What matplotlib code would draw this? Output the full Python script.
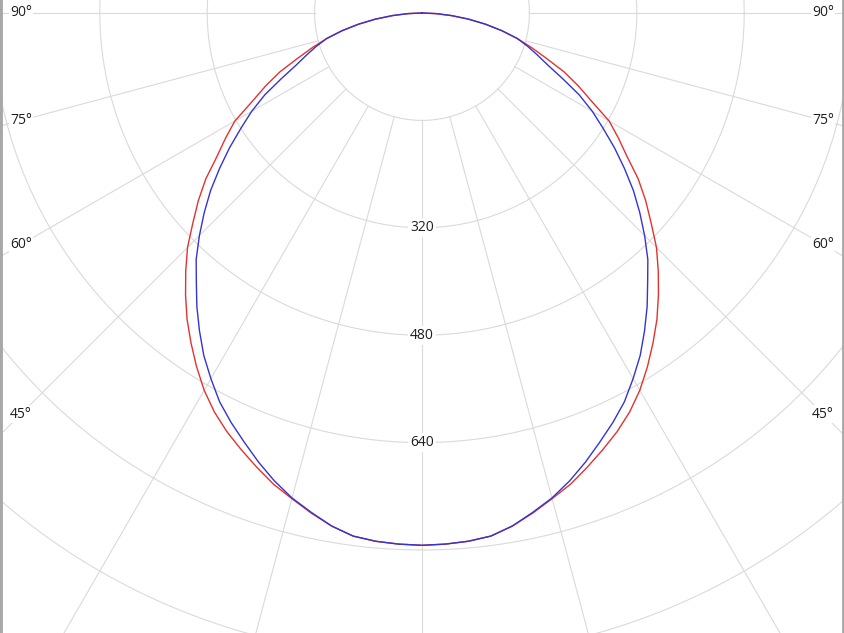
# polar intensity diagram (cd), two planes, viewed as a crop around the lamp centre

import numpy as np
import matplotlib
matplotlib.use('Agg')
import matplotlib.pyplot as plt

# gamma angle from nadir, degrees
gamma = [0, 2.5, 5, 7.5, 10, 12.5, 15, 17.5, 20, 22.5, 25, 27.5, 30, 32.5, 35,
         37.5, 40, 42.5, 45, 47.5, 50, 52.5, 55, 57.5, 60, 62.5, 65, 67.5, 70,
         72.5, 75, 77.5, 80, 82.5, 85, 87.5, 90]
# intensity in cd (same both sides)
red_cd = [793, 792, 790, 786, 776, 763, 749, 736, 720, 704, 688, 670, 649, 625, 600,
          575, 548, 521, 494, 463, 435, 406, 373, 347, 322, 285, 257, 229, 197,
          171, 147, 122, 96, 70, 44, 21, 0]
blue_cd = [793, 792, 790, 786, 776, 762, 748, 731, 712, 692, 673, 653, 629, 605, 578,
           551, 523, 498, 469, 440, 411, 380, 350, 320, 293, 264, 231, 203, 183,
           165, 147, 122, 96, 70, 44, 21, 0]

ring_values = [160, 320, 480, 640, 800, 960, 1120]
ring_labels = [320, 480, 640]
spoke_angles = [-90, -75, -60, -45, -30, -15, 0, 15, 30, 45, 60, 75, 90]
angle_labels = [45, 60, 75, 90]

cd_per_px = 160 / 107.4
grid_col = '#dadada'
txt_col = '#1e1e1e'
fnt = ['Open Sans', 'DejaVu Sans']


def to_xy(ang, val):
    # mirror the half curve to both sides, 0 deg points down
    ang = np.asarray(ang, dtype=float)
    val = np.asarray(val, dtype=float)
    a = np.concatenate([-ang[::-1], ang[1:]])
    r = np.concatenate([val[::-1], val[1:]])
    t = np.radians(a)
    return r * np.sin(t), -r * np.cos(t)


fig = plt.figure(figsize=(8.44, 6.33), dpi=100)
ax = fig.add_axes([0, 0, 1, 1])

# rings
t = np.linspace(0, 2 * np.pi, 720)
for rv in ring_values:
    ax.plot(rv * np.cos(t), rv * np.sin(t), color=grid_col, lw=0.8, zorder=1)

# spokes start on the first ring
for sa in spoke_angles:
    a = np.radians(sa)
    ax.plot([ring_values[0] * np.sin(a), 1300 * np.sin(a)],
            [-ring_values[0] * np.cos(a), -1300 * np.cos(a)],
            color=grid_col, lw=0.8, zorder=1)

# curves
x, y = to_xy(gamma, red_cd)
ax.plot(x, y, color='#e3322f', lw=1.0, zorder=3)
x, y = to_xy(gamma, blue_cd)
ax.plot(x, y, color='#3434d0', lw=1.0, zorder=4)

# ring values down the middle
for rv in ring_labels:
    ax.text(0, -rv, str(rv), ha='center', va='center', fontsize=10,
            color=txt_col, family=fnt, zorder=5,
            bbox=dict(boxstyle='square,pad=0.15', fc='white', ec='none'))

# angle labels near both edges, sitting on their spoke
xl = 401 * cd_per_px
for al in angle_labels:
    a = np.radians(al)
    yl = -xl * np.cos(a) / np.sin(a)
    for sx in (-1, 1):
        ax.text(sx * xl, yl, '%d°' % al, ha='center', va='center',
                fontsize=10, color=txt_col, family=fnt, zorder=5,
                bbox=dict(boxstyle='square,pad=0.1', fc='white', ec='none'))

ax.set_xlim(-422 * cd_per_px, 422 * cd_per_px)
ax.set_ylim(-620 * cd_per_px, 13 * cd_per_px)
ax.set_aspect('equal', adjustable='box')
ax.set_xticks([])
ax.set_yticks([])
for side in ('top', 'bottom'):
    ax.spines[side].set_visible(False)
for side in ('left', 'right'):
    ax.spines[side].set_color('#a8a8a8')
    ax.spines[side].set_linewidth(3.5)

fig.savefig('out.png', dpi=100, facecolor='white')
